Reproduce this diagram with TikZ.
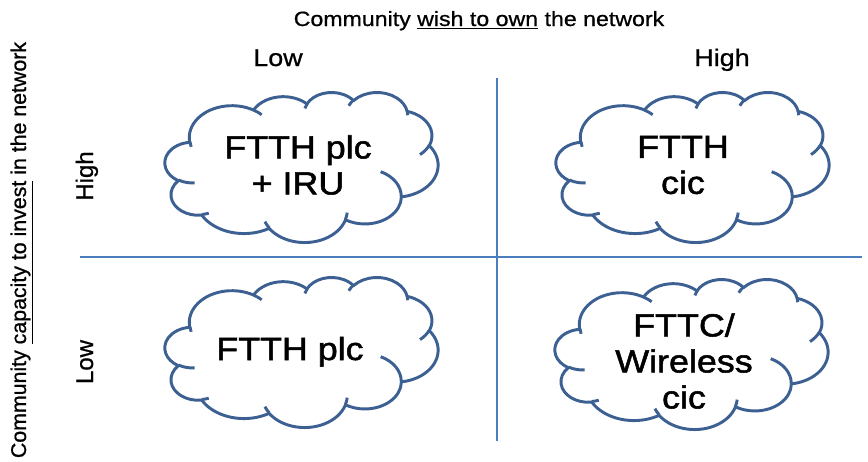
\documentclass[tikz,border=0pt]{standalone}
\usepackage{fontspec}
\setmainfont{Liberation Sans}[FakeStretch=1.12, FakeBold=0.8]
\newfontfamily\sidefont{Liberation Sans}[FakeBold=0.8]
\newfontfamily\cellfont{Liberation Sans}[FakeStretch=1.12, FakeBold=1.6]
\usepackage{tikz}
\definecolor{cloudline}{RGB}{60,96,146}
\definecolor{gridline}{RGB}{74,126,190}
\tikzstyle{cloudedge} = [draw=cloudline, line width=2.2pt, line join=round]
\tikzstyle{celltext} = [align=center, font=\cellfont\fontsize{24}{27}\selectfont, inner sep=0pt]
\tikzstyle{axistitle} = [font=\fontsize{15.5}{18}\selectfont, inner sep=0pt]
\tikzstyle{sidetitle} = [font=\fontsize{16}{19}\selectfont, inner sep=0pt]
\tikzstyle{scalelabel} = [font=\fontsize{18}{21}\selectfont, inner sep=0pt]
\tikzstyle{divider} = [gridline, line width=1.5pt]

% angle on an ellipse, and the sweep, from the angles of an office cloud
\pgfmathdeclarefunction{ellang}{3}{\begingroup\pgfmathparse{atan2((#1)*sin(#3),(#2)*cos(#3))}\pgfmathsmuggle\pgfmathresult\endgroup}
\pgfmathdeclarefunction{elldelta}{4}{\begingroup
  \pgfmathparse{ellang(#1,#2,(#3)+(#4))-ellang(#1,#2,#3)}\let\elld\pgfmathresult
  \pgfmathparse{\elld-360*round((\elld-(#4))/360)}\pgfmathsmuggle\pgfmathresult\endgroup}
\newcommand\parc[4]{arc[x radius=#1, y radius=#2, start angle={ellang(#1,#2,#3)}, delta angle={elldelta(#1,#2,#3,#4)}]}

% cloud in a 432 x 432 box, left top corner at #1,#2
\newcommand\pptcloud[2]{%
  \begin{scope}[shift={(#1,#2)}, x=0.474pt, y=-0.2604pt]
    \filldraw[cloudedge, fill=white] (39.00,143.70)
      \parc{67.53}{91.90}{-190.4875}{123.7805}
      \parc{53.33}{72.67}{-144.1024}{89.9452}
      \parc{43.65}{59.45}{-145.8079}{99.7230}
      \parc{48.57}{65.95}{-130.9861}{117.2417}
      \parc{53.33}{72.73}{-78.7089}{109.0269}
      \parc{67.75}{92.20}{-46.2673}{130.2690}
      \parc{57.85}{78.67}{0.6250}{114.0333}
      \parc{67.52}{92.15}{22.4516}{115.1726}
      \parc{77.20}{105.43}{66.2426}{75.7110}
      \parc{43.60}{59.18}{-274.9421}{146.7356}
      \parc{43.45}{59.45}{-246.8285}{152.5189} -- cycle;
    \draw[cloudedge]
      (46.93,261.77) \parc{43.45}{59.45}{86.7420}{26.4295}
      (69.28,348.99) \parc{43.60}{59.18}{73.6105}{11.4475}
      (164.78,390.90) \parc{67.52}{92.15}{137.6242}{14.0811}
      (288.27,347.51) \parc{67.52}{92.15}{6.4533}{15.9984}
      (341.29,229.54) \parc{57.85}{78.67}{-70.2924}{70.9174}
      (417.98,153.54) \parc{53.33}{72.73}{30.3180}{27.7515}
      (383.24,54.26) \parc{48.57}{65.95}{-13.7443}{14.8589}
      (290.78,39.52) \parc{48.57}{65.95}{-149.1815}{18.1954}
      (221.41,47.20) \parc{43.65}{59.45}{-163.4943}{17.6864}
      (140.00,51.92) \parc{67.53}{91.90}{-66.7070}{12.3194}
      (41.27,157.89) \parc{67.53}{91.90}{162.0476}{11.8537};
  \end{scope}}

\begin{document}
\begin{tikzpicture}[x=0.75pt, y=-0.75pt]
\useasboundingbox (0,0) rectangle (868,461);

% Grid
\coordinate (vtop) at (497,78);
\coordinate (vbot) at (497,441);
\coordinate (hleft) at (80,257);
\coordinate (hright) at (862,257);
\draw [divider] (vtop) -- (vbot);
\draw [divider] (hleft) -- (hright);

% Axis labels
\node (wish) [axistitle, anchor=base] at (479,26) {Community \underline{wish to own} the network};
\node (wishlow) [scalelabel, anchor=base] at (278,66) {Low};
\node (wishhigh) [scalelabel, anchor=base] at (722,66) {High};
\node (capacity) [sidetitle, anchor=base, rotate=90] at (26,250) {\sidefont Community \underline{capacity to invest} in the network};
\node (caphigh) [scalelabel, anchor=base, rotate=90] at (93,176) {\sidefont High};
\node (caplow) [scalelabel, anchor=base, rotate=90] at (93,362) {\sidefont Low};

% Clouds
\pptcloud{165}{92}
\pptcloud{556}{92}
\pptcloud{165}{277}
\pptcloud{555}{279}

% Cloud texts
\node (plciruText) [celltext] at (298,165) {FTTH plc\\+ IRU};
\node (ftthcicText) [celltext] at (683,165) {FTTH\\cic};
\node (plcText) [celltext, anchor=base] at (290,360) {FTTH plc};
\node (wirelessText) [celltext] at (684,361) {FTTC/\\Wireless\\cic};

\end{tikzpicture}
\end{document}
